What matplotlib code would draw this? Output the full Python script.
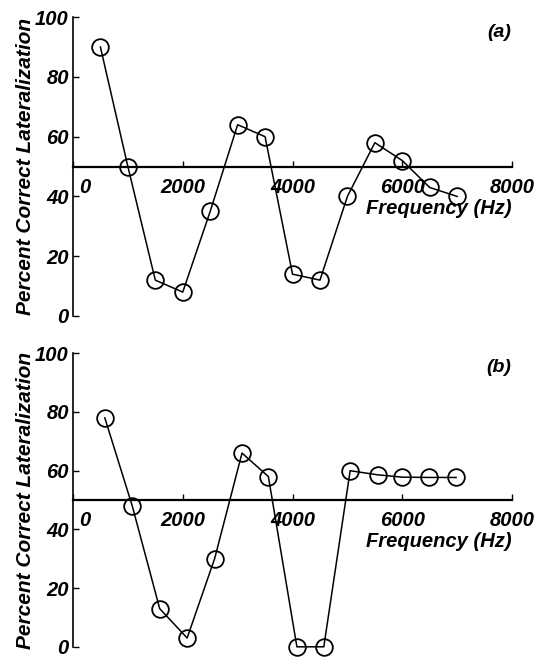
import matplotlib
matplotlib.use('Agg')
import matplotlib.pyplot as plt
import matplotlib.transforms as mtransforms

# panel (a)
freq_a = [500, 1000, 1500, 2000, 2500, 3000, 3500, 4000, 4500, 5000, 5500, 6000, 6500, 7000]
pct_a = [90, 50, 12, 8, 35, 64, 60, 14, 12, 40, 58, 52, 43, 40]

# panel (b)
freq_b = [580, 1080, 1580, 2080, 2580, 3080, 3560, 4080, 4570, 5050, 5550, 6000, 6480, 6980]
pct_b = [78, 48, 13, 3, 30, 66, 58, 0, 0, 60, 58.6, 57.8, 57.7, 57.7]

xticks = [0, 2000, 4000, 6000, 8000]
yticks = [0, 20, 40, 60, 80, 100]

font = dict(family='Liberation Sans', weight='bold', style='italic')

fig = plt.figure(figsize=(5.39, 6.59), dpi=100)
ax_a = fig.add_axes([0.1354, 0.5205, 0.8146, 0.4535])
ax_b = fig.add_axes([0.1354, 0.0185, 0.8146, 0.4454])

for ax, x, y, tag in [(ax_a, freq_a, pct_a, '(a)'), (ax_b, freq_b, pct_b, '(b)')]:
    ax.plot(x, y, color='black', lw=1.1, marker='o', ms=12, mfc='none',
            mec='black', mew=1.3, clip_on=False, zorder=3)
    ax.set_xlim(0, 8000)
    ax.set_ylim(0, 100)
    ax.spines['top'].set_visible(False)
    ax.spines['right'].set_visible(False)
    ax.spines['bottom'].set_position(('data', 50))
    ax.spines['bottom'].set_linewidth(1.6)
    ax.spines['left'].set_linewidth(1.2)
    ax.set_xticks(xticks)
    ax.set_yticks(yticks)
    ax.tick_params(axis='x', direction='in', length=4, width=1.0, pad=8)
    ax.tick_params(axis='y', direction='in', length=4, width=1.0, pad=3)
    ax.set_xticklabels([str(v) for v in xticks], fontsize=14.5, **font)
    ax.set_yticklabels([str(v) for v in yticks], fontsize=14.5, **font)
    lab0 = ax.get_xticklabels()[0]
    lab0.set_transform(lab0.get_transform() +
                       mtransforms.ScaledTranslation(0.12, 0, fig.dpi_scale_trans))
    ax.set_ylabel('Percent Correct Lateralization', fontsize=15, labelpad=0, **font)
    ax.text(1.0, 0.36, 'Frequency (Hz)', transform=ax.transAxes, ha='right',
            va='center', fontsize=14.5, **font)
    ax.text(0.97, 0.95, tag, transform=ax.transAxes, ha='center', va='center',
            fontsize=14, **font)

fig.savefig('out.png', dpi=100)
